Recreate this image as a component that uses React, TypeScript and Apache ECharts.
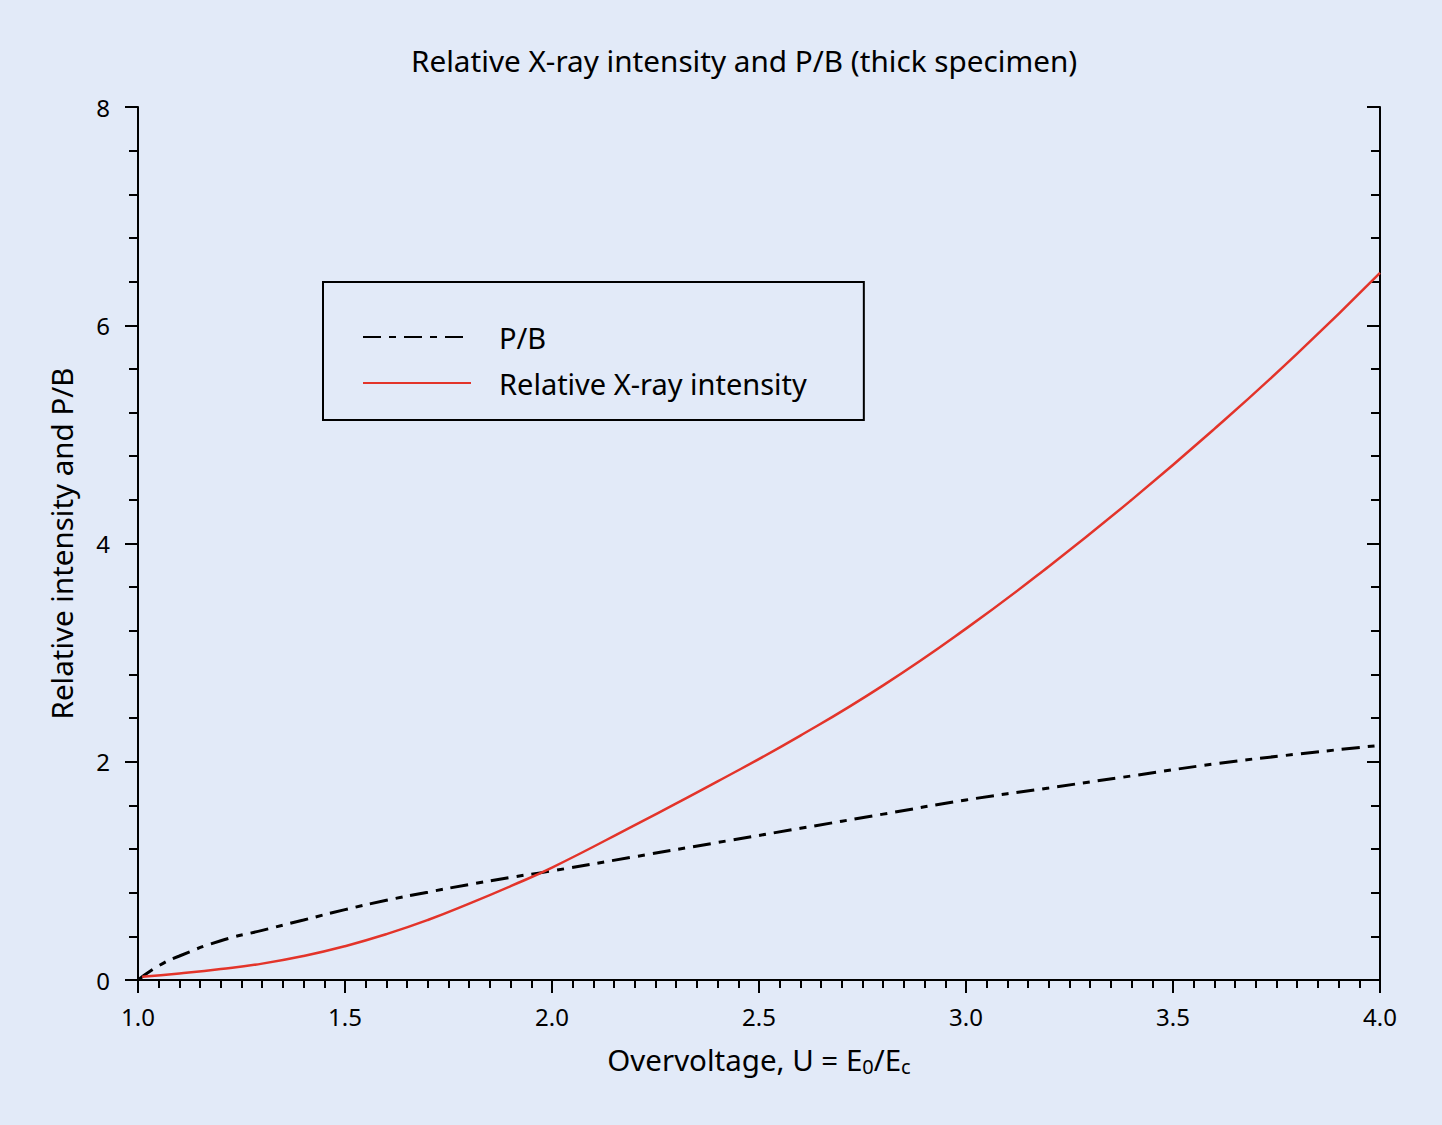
import React, { useEffect, useRef } from "react";
import * as echarts from "echarts";

const pbU = [1.0, 1.05, 1.1, 1.2, 1.3, 1.4, 1.5, 1.6, 1.7, 1.8, 1.9, 2.0, 2.2, 2.4, 2.6, 2.8, 3.0, 3.2, 3.4, 3.6, 3.8, 4.0];
const pbValues = [0.0, 0.13, 0.22, 0.36, 0.455, 0.55, 0.645, 0.73, 0.805, 0.875, 0.94, 1.0, 1.13, 1.26, 1.39, 1.52, 1.65, 1.76, 1.87, 1.98, 2.07, 2.15];

const intU = [1.01, 1.1, 1.2, 1.3, 1.4, 1.5, 1.6, 1.7, 1.8, 1.9, 2.0, 2.2, 2.4, 2.6, 2.8, 3.0, 3.2, 3.4, 3.6, 3.8, 4.0];
const intValues = [0.03, 0.06, 0.1, 0.15, 0.22, 0.31, 0.42, 0.55, 0.7, 0.86, 1.03, 1.42, 1.82, 2.24, 2.7, 3.22, 3.79, 4.4, 5.05, 5.74, 6.48];

const title = "Relative X-ray intensity and P/B (thick specimen)";
const xName = "Overvoltage, U = E{sub|0}/E{sub|c}";
const yName = "Relative intensity and P/B";
const seriesNames = ["P/B", "Relative X-ray intensity"];

const FONT = "Noto Sans";
const BG = "#E2EAF8";

export default function App() {
  const ref = useRef<HTMLDivElement>(null);
  useEffect(() => {
    document.body.style.margin = "0";
    const chart = echarts.init(ref.current!, null, { renderer: "svg" });
    const axisLine = { show: true, lineStyle: { color: "#000", width: 2 } };
    const commonX = {
      type: "value" as const,
      min: 1,
      max: 4,
      interval: 0.5,
      axisLine,
      splitLine: { show: false },
      minorTick: { show: true, splitNumber: 10, length: 8, lineStyle: { color: "#000", width: 2 } },
      axisTick: { show: true, length: 13, lineStyle: { color: "#000", width: 2 } },
    };
    const commonY = {
      type: "value" as const,
      min: 0,
      max: 8,
      interval: 2,
      axisLine,
      splitLine: { show: false },
      minorTick: { show: true, splitNumber: 5, length: 9, lineStyle: { color: "#000", width: 2 } },
      axisTick: { show: true, length: 13, lineStyle: { color: "#000", width: 2 } },
    };
    chart.setOption({
      animation: false,
      backgroundColor: BG,
      textStyle: { fontFamily: FONT },
      title: {
        text: title,
        left: 406,
        top: 40,
        textStyle: { fontFamily: FONT, fontSize: 29.7, fontWeight: "normal", color: "#000" },
      },
      grid: { left: 138, right: 62, top: 107, bottom: 145 },
      legend: {
        orient: "vertical",
        left: 323,
        top: 282,
        padding: [40, 57, 22, 39],
        itemWidth: 108,
        itemHeight: 14,
        itemGap: 16,
        borderColor: "#000",
        borderWidth: 2,
        data: seriesNames,
        itemStyle: { color: "rgba(0,0,0,0)", borderWidth: 0, opacity: 0 },
        textStyle: { fontFamily: FONT, fontSize: 29, lineHeight: 30, color: "#000", padding: [0, 0, 0, 23] },
      },
      xAxis: [
        {
          ...commonX,
          position: "bottom",
          name: xName,
          nameLocation: "middle",
          nameGap: 62,
          nameTextStyle: {
            fontFamily: FONT,
            fontSize: 29.5,
            color: "#000",
            rich: { sub: { fontFamily: FONT, fontSize: 20, verticalAlign: "bottom", padding: [14, 0, 0, 0], color: "#000" } },
          },
          axisTick: { ...commonX.axisTick, inside: false },
          axisLabel: { fontFamily: FONT, fontSize: 24, color: "#000", margin: 24, formatter: (v: number) => v.toFixed(1) },
        },
        {
          ...commonX,
          position: "top",
          axisTick: { ...commonX.axisTick, inside: true },
          axisLabel: { show: false },
        },
      ],
      yAxis: [
        {
          ...commonY,
          position: "left",
          name: yName,
          nameLocation: "middle",
          nameGap: 62,
          nameTextStyle: { fontFamily: FONT, fontSize: 29.5, color: "#000" },
          axisLabel: { fontFamily: FONT, fontSize: 24, color: "#000", margin: 28 },
        },
        {
          ...commonY,
          position: "right",
          axisTick: { ...commonY.axisTick, inside: true },
          axisLabel: { show: false },
        },
      ],
      series: [
        {
          name: seriesNames[0],
          type: "line",
          xAxisIndex: 0,
          yAxisIndex: 0,
          smooth: true,
          showSymbol: false,
          symbol: "none",
          data: pbU.map((u, i) => [u, pbValues[i]]),
          lineStyle: { color: "#000", width: 3, type: [18, 8, 7, 8] },
          itemStyle: { color: "#000" },
        },
        {
          name: seriesNames[1],
          type: "line",
          xAxisIndex: 0,
          yAxisIndex: 0,
          smooth: true,
          showSymbol: false,
          symbol: "none",
          data: intU.map((u, i) => [u, intValues[i]]),
          lineStyle: { color: "#E3342A", width: 2.5 },
          itemStyle: { color: "#E3342A" },
        },
      ],
    });
    return () => chart.dispose();
  }, []);
  return <div ref={ref} style={{ width: 1442, height: 1125, background: BG }} />;
}
